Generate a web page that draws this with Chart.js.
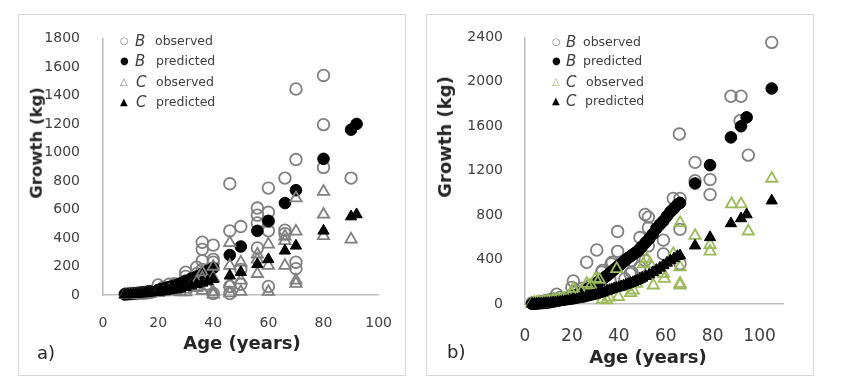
<!DOCTYPE html>
<html><head><meta charset="utf-8">
<script src="https://cdn.jsdelivr.net/npm/chart.js@4.4.1/dist/chart.umd.min.js"></script>
<style>
html,body{margin:0;padding:0;background:#fff;width:850px;height:389px;overflow:hidden;font-family:"DejaVu Sans",Verdana,sans-serif;}
.frame{position:absolute;border:1px solid #d9d9d9;box-sizing:border-box;}
canvas{position:absolute;}
.t{position:absolute;white-space:nowrap;line-height:1;transform:translateY(-50%);}
.yt{position:absolute;white-space:nowrap;font-weight:bold;color:#262626;line-height:1;transform:translate(-50%,-50%) rotate(-90deg);}
.xt{position:absolute;white-space:nowrap;font-weight:bold;color:#262626;line-height:1;transform:translate(-50%,-50%);}
.lg{color:#404040;font-size:12.5px;}
.lt{font-style:italic;font-size:15px;color:#404040;}
.mk{font-size:10px;}
</style></head>
<body>
<div class="frame" style="left:18px;top:14px;width:388px;height:362px"></div>
<div class="frame" style="left:426px;top:14px;width:388px;height:362px"></div>
<canvas id="ca" width="385" height="359" style="left:19px;top:15px"></canvas>
<canvas id="cb" width="385" height="359" style="left:427px;top:15px"></canvas>

<!-- panel a texts -->
<div class="yt" style="left:37px;top:143px;font-size:16.5px">Growth (kg)</div>
<div class="xt" style="left:242px;top:343px;font-size:18px">Age (years)</div>
<div class="t" style="left:37px;top:353px;font-size:18px;color:#262626">a)</div>
<div class="t mk" style="left:120px;top:41px;color:#808080">○</div>
<div class="t lt" style="left:135px;top:41px">B</div>
<div class="t lg" style="left:155px;top:41px">observed</div>
<div class="t mk" style="left:120px;top:61px;color:#000">●</div>
<div class="t lt" style="left:135px;top:61px">B</div>
<div class="t lg" style="left:156px;top:61px">predicted</div>
<div class="t mk" style="left:120px;top:82px;color:#808080">△</div>
<div class="t lt" style="left:136px;top:82px">C</div>
<div class="t lg" style="left:156px;top:82px">observed</div>
<div class="t mk" style="left:120px;top:102px;color:#000">▲</div>
<div class="t lt" style="left:136px;top:102px">C</div>
<div class="t lg" style="left:156px;top:102px">predicted</div>

<!-- panel b texts -->
<div class="yt" style="left:445px;top:137px;font-size:18px">Growth (kg)</div>
<div class="xt" style="left:648px;top:357px;font-size:18px">Age (years)</div>
<div class="t" style="left:447px;top:352px;font-size:18px;color:#262626">b)</div>
<div class="t mk" style="left:552px;top:42px;color:#808080">○</div>
<div class="t lt" style="left:566px;top:42px">B</div>
<div class="t lg" style="left:583px;top:42px">observed</div>
<div class="t mk" style="left:552px;top:61px;color:#000">●</div>
<div class="t lt" style="left:566px;top:61px">B</div>
<div class="t lg" style="left:583px;top:61px">predicted</div>
<div class="t mk" style="left:552px;top:82px;color:#9bbb59">△</div>
<div class="t lt" style="left:566px;top:82px">C</div>
<div class="t lg" style="left:586px;top:82px">observed</div>
<div class="t mk" style="left:552px;top:101px;color:#000">▲</div>
<div class="t lt" style="left:566px;top:101px">C</div>
<div class="t lg" style="left:585px;top:101px">predicted</div>

<script>
// ---------- Panel a data ----------
const aBobsX = [8,9,10,11,12,13,14,15,16,17,20,22,24,26,28,30,30,32,34,34,36,36,36,36,38,40,40,40,40,46,46,46,46,50,50,50,56,56,56,56,60,60,60,60,60,66,66,66,70,70,70,70,80,80,80,90];
const aBobsY = [5,8,8,10,10,12,12,14,15,18,70,55,75,80,60,160,130,110,195,150,370,320,240,180,130,350,250,230,10,780,450,60,10,480,75,180,610,560,505,330,750,580,515,450,60,820,455,430,1445,950,230,185,1540,1195,895,820];
const aBpredX = [8,9,10,11,12,13,14,15,16,17,20,21,22,23,24,25,26,27,28,30,32,34,36,38,40,46,50,56,60,66,70,80,90,92];
const aBpredY = [5,7,9,11,13,15,18,20,23,26,35,40,45,50,55,60,66,72,80,100,115,130,150,170,190,280,340,450,520,645,735,955,1160,1200];
const aCobsX = [8,9,10,11,12,13,14,15,16,17,20,22,24,26,28,30,30,32,34,34,36,36,36,38,40,40,40,40,46,46,46,46,50,50,50,56,56,56,60,60,60,66,66,66,70,70,70,70,80,80,80,90];
const aCobsY = [2,3,3,4,4,5,5,6,6,8,15,20,30,25,20,40,20,60,90,50,160,120,30,60,200,120,20,5,366,206,80,13,229,103,23,286,250,149,355,206,23,412,380,206,680,446,103,80,725,565,415,390];
const aCpredX = [8,9,10,11,12,13,14,15,16,17,20,21,22,23,24,25,26,27,28,30,32,34,36,38,40,46,50,56,60,66,70,80,90,92];
const aCpredY = [3,4,5,6,7,8,10,11,13,15,20,23,26,29,32,35,38,42,45,55,65,75,85,95,110,135,160,215,250,310,345,450,550,565];
const aXTicks = [0,20,40,60,80,100];
const aYTicks = [0,200,400,600,800,1000,1200,1400,1600,1800];

// ---------- Panel b data ----------
const bBobsX = [3,4,5,6,7,8,9,10,11,12,13.5,15,17,20,20.6,22,24.2,26.3,28,30.6,32.7,33,36.2,36.7,37.2,39.5,39.5,42.6,44.8,45.5,45.5,49,49,51.2,51.2,52.6,52.6,52.6,59,59,63.2,65.8,66.1,66.1,66.1,72.5,72.5,78.9,78.9,87.8,92.1,91.7,95.2,105.2];
const bBobsY = [10,12,15,18,20,25,30,35,40,45,89,60,55,150,207,120,139,376,170,486,287,302,213,362,376,652,474,228,273,391,287,598,332,806,391,782,687,524,575,450,950,1530,950,672,362,1275,1110,1120,985,1870,1870,1650,1340,2355];
const bBpredX = [3,4,5,6,7,8,9,10,11,12,13,14,15,16,17,18,19,20,21,22,23,24,25,26,27,28,29,30,31,32,33,34,35,36,37,38,39,40,41,42,43,44,45,46,47,48,49,50,51.5,53,54.5,56,57.5,59,60.5,62,63.5,65,66.1,72.5,78.9,87.8,92.1,94.5,105.2];
const bBpredY = [2,3,4,6,8,10,12,15,18,22,26,30,35,40,46,52,58,65,72,80,90,100,112,125,138,150,165,180,195,210,225,240,256,273,292,310,328,345,362,380,398,415,430,445,460,475,497,520,555,590,630,680,715,747,790,830,860,895,910,1085,1250,1500,1600,1680,1940];
const bCobsX = [3,4,5,6,7,8,9,10,11,12,13,14,15,16,17,18,19,19.9,20.6,22,23,24,26.3,28.1,30.1,31.7,33,34.8,36,39.1,39.8,47.6,43.4,45,46.2,50.5,51.9,53.3,54.7,59,59.4,63.2,66.1,66.1,66.1,66.1,72.5,78.9,78.9,88.1,92.1,95.2,105.2];
const bCobsY = [5,12,10,18,8,20,15,25,15,30,30,40,25,50,45,30,60,95,139,60,50,110,184,169,228,219,40,36,60,317,65,184,154,100,124,360,406,362,169,273,228,450,169,332,731,184,615,533,474,900,900,655,1130];
const bCpredX = [3,4,5,6,7,8,9,10,11,12,13,14,15,16,17,18,19,20,21,22,23,24,25,26,27,28,29,30,31,32,33,34,35,36,37,38,39,40,41,42,43,44,45,46,47,48,49,50,51.5,53,54.5,56,57.5,59,60.5,62,63.5,65,66.1,72.5,78.9,87.8,92.1,94.5,105.2];
const bCpredY = [1,2,3,4,5,6,7,8,10,12,14,16,19,21,24,27,30,34,38,42,46,50,55,60,65,70,76,82,88,95,102,110,117,125,132,140,145,150,158,165,172,180,187,195,204,213,224,235,250,265,285,305,325,347,370,391,410,430,436,525,600,725,770,805,930];
const bXTicks = [0,20,40,60,80,100];
const bYTicks = [0,400,800,1200,1600,2000,2400];

const GRAY = '#7f7f7f', GREEN = '#9bbb59', AXIS = '#bfbfbf', TICK = '#404040';

function pts(xs, ys){ return xs.map((x,i)=>({x:x, y:ys[i]})); }

function makeChart(id, cfg){
  const ds = [
    {label:'B observed', data:pts(cfg.bo[0],cfg.bo[1]), pointStyle:'circle', pointRadius:5.8, borderColor:GRAY, backgroundColor:'rgba(0,0,0,0)', borderWidth:1.8, order:4, clip:false},
    {label:'B predicted', data:pts(cfg.bp[0],cfg.bp[1]), pointStyle:'circle', pointRadius:5.8, borderColor:'#000', backgroundColor:'#000', borderWidth:1, order:3, clip:false},
    {label:'C observed', data:pts(cfg.co[0],cfg.co[1]), pointStyle:'triangle', pointRadius:6.5, borderColor:cfg.triColor, backgroundColor:'rgba(0,0,0,0)', borderWidth:1.8, order:2, clip:false},
    {label:'C predicted', data:pts(cfg.cp[0],cfg.cp[1]), pointStyle:'triangle', pointRadius:6.5, borderColor:'#000', backgroundColor:'#000', borderWidth:1, order:1, clip:false}
  ];
  return new Chart(document.getElementById(id), {
    type:'scatter',
    data:{datasets:ds},
    options:{
      responsive:false, animation:false, devicePixelRatio:1,
      layout:{padding:cfg.pad},
      plugins:{legend:{display:false}, tooltip:{enabled:false}},
      scales:{
        x:{type:'linear', min:cfg.xmin, max:cfg.xmax,
           grid:{display:false}, border:{display:true,color:AXIS,width:1.6},
           afterBuildTicks:s=>{s.ticks = cfg.xt.map(v=>({value:v}));},
           afterFit:s=>{s.height = cfg.xh;},
           ticks:{padding:cfg.xpad, color:TICK, font:{family:'DejaVu Sans', size:cfg.xfs}, callback:v=>String(v), maxRotation:0, autoSkip:false}},
        y:{type:'linear', min:0, max:cfg.ymax,
           grid:{display:false}, border:{display:true,color:AXIS,width:1.6},
           afterBuildTicks:s=>{s.ticks = cfg.yt.map(v=>({value:v}));},
           afterFit:s=>{s.width = cfg.yw;},
           ticks:{padding:cfg.ypad, color:TICK, font:{family:'DejaVu Sans', size:14}, callback:v=>String(v), autoSkip:false}}
      }
    }
  });
}

makeChart('ca', {
  bo:[aBobsX,aBobsY], bp:[aBpredX,aBpredY], co:[aCobsX,aCobsY], cp:[aCpredX,aCpredY],
  triColor:GRAY, xmin:0, xmax:100, ymax:1800, xt:aXTicks, yt:aYTicks,
  pad:{left:0, top:18, right:23, bottom:0}, xh:79, yw:84, xpad:12, ypad:15, xfs:14
});
makeChart('cb', {
  bo:[bBobsX,bBobsY], bp:[bBpredX,bBpredY], co:[bCobsX,bCobsY], cp:[bCpredX,bCpredY],
  triColor:GREEN, xmin:0, xmax:110, ymax:2400, xt:bXTicks, yt:bYTicks,
  pad:{left:0, top:19, right:29, bottom:0}, xh:70, yw:98, xpad:14, ypad:14, xfs:17
});
</script>
</body></html>
